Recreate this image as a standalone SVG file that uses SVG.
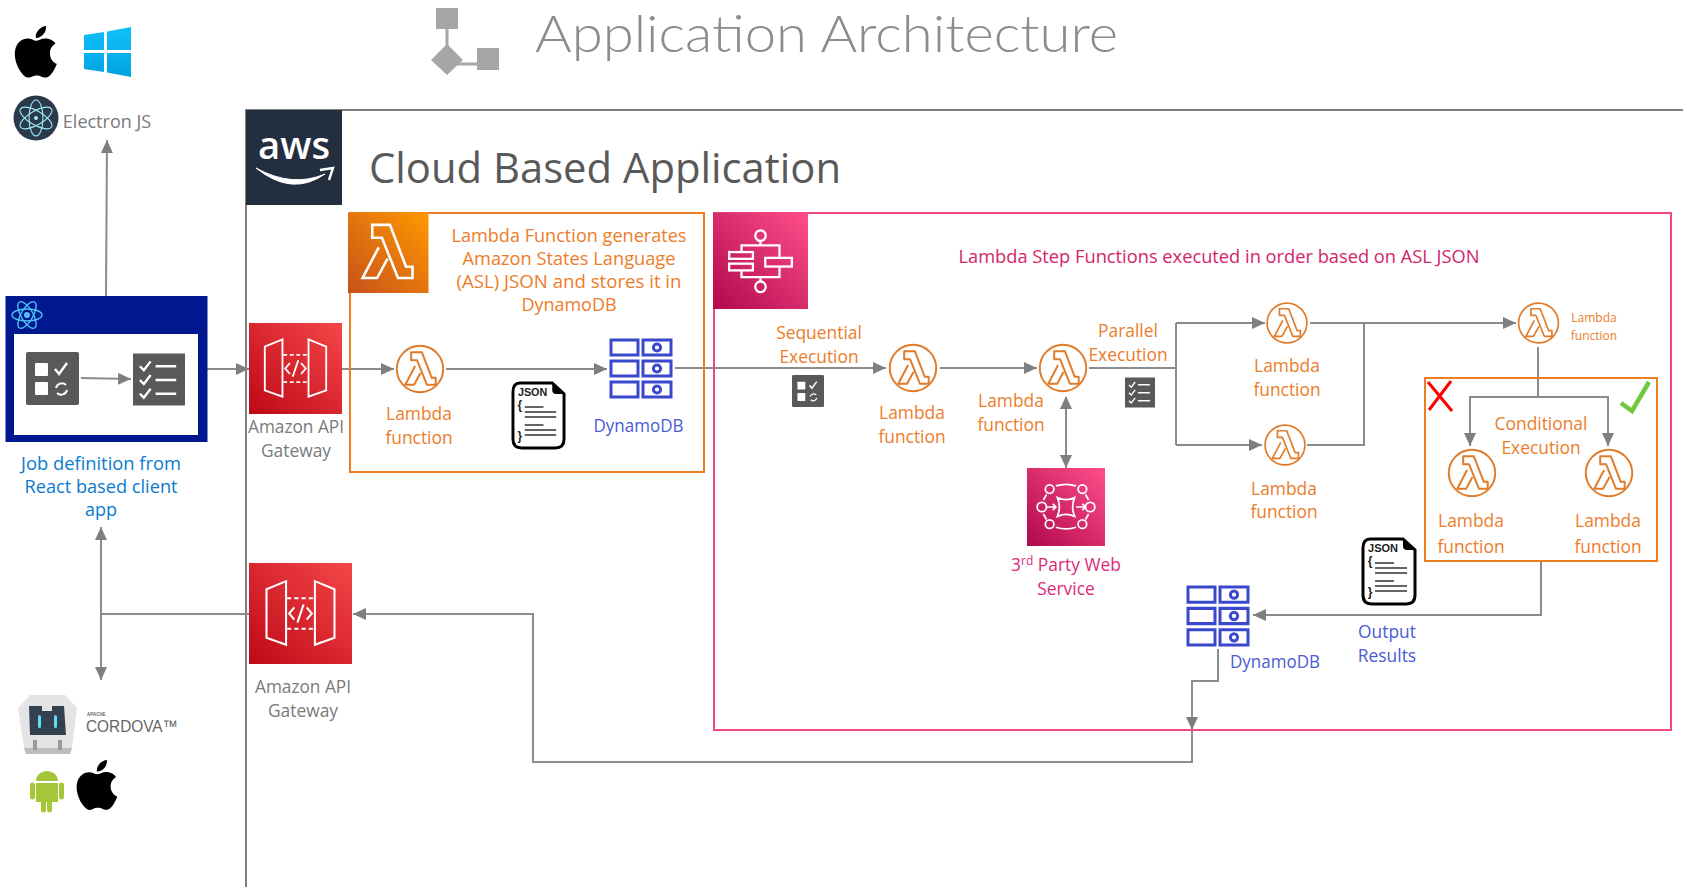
<svg xmlns="http://www.w3.org/2000/svg" width="1683" height="887" viewBox="0 0 1683 887">
<style>
text{font-family:"Open Sans","Liberation Sans",sans-serif;font-size:18px;text-anchor:middle}
.o{fill:#ec7d2a}.b{fill:#4a5bd4}.p{fill:#dc2b78}.g{fill:#7a7a7a}.j{fill:#0a7bd0}.r{fill:#d4246c}
.s{font-size:17.4px}
.c{fill:none;stroke:#8c8c8c;stroke-width:2}
.ca{marker-end:url(#ah)}
.w{fill:none;stroke:#fff;stroke-width:2.4}
.d{fill:none;stroke:#3b48cc;stroke-width:3}
</style>
<defs>
<marker id="ah" markerUnits="userSpaceOnUse" markerWidth="14" markerHeight="14" refX="13" refY="7" orient="auto"><path d="M0,1 L13,7 L0,13 Z" fill="#7f7f7f"/></marker>
<marker id="as" markerUnits="userSpaceOnUse" markerWidth="14" markerHeight="14" refX="1" refY="7" orient="auto"><path d="M13,1 L0,7 L13,13 Z" fill="#7f7f7f"/></marker>
<linearGradient id="go" x1="0" y1="1" x2="1" y2="0"><stop offset="0" stop-color="#c8511b"/><stop offset="1" stop-color="#f90"/></linearGradient>
<linearGradient id="gr" x1="0" y1="1" x2="1" y2="0"><stop offset="0" stop-color="#bd0816"/><stop offset="1" stop-color="#f54749"/></linearGradient>
<linearGradient id="gp" x1="0" y1="1" x2="1" y2="0"><stop offset="0" stop-color="#b0084d"/><stop offset="1" stop-color="#ff4f8b"/></linearGradient>
<linearGradient id="gw" x1="0" y1="0" x2="0" y2="1"><stop offset="0" stop-color="#10c0fb"/><stop offset="1" stop-color="#00a2e0"/></linearGradient>
<symbol id="lam" viewBox="-25 -25 50 50" overflow="visible">
<circle r="23.7" fill="#fff" stroke="#e07b2a" stroke-width="2"/>
<path d="M-9,-17 H2 L12,9 H16 V16 H7 L-3,-9 H-9 Z M-5,-3 L-15,16 H-6 L0.5,4" fill="none" stroke="#e07b2a" stroke-width="2" stroke-linejoin="round"/>
</symbol>
<symbol id="lamw" viewBox="-25 -25 50 50">
<path d="M-9,-17 H2 L12,9 H16 V16 H7 L-3,-9 H-9 Z M-5,-3 L-15,16 H-6 L0.5,4" fill="none" stroke="#fff" stroke-width="1.6"/>
</symbol>
<symbol id="api" viewBox="0 0 100 100" preserveAspectRatio="none">
<rect width="100" height="100" fill="url(#gr)"/>
<path d="M17,26 L36,18 V81 L17,74 Z M83,26 L64,18 V81 L83,74 Z" fill="none" stroke="#fff" stroke-width="2"/>
<path d="M37,35 H63 M37,65 H63" fill="none" stroke="#fff" stroke-width="2" stroke-dasharray="4 3"/>
<path d="M44,44 L39,50 L44,56 M56,44 L61,50 L56,56 M53,41 L47,59" fill="none" stroke="#fff" stroke-width="2"/>
</symbol>
<symbol id="ddb" viewBox="0 0 64 61" preserveAspectRatio="none">
<path class="d" d="M2,2 H29 V17 H2 Z M34,2 H62 V17 H34 Z M2,23 H29 V38 H2 Z M34,23 H62 V38 H34 Z M2,44 H29 V59 H2 Z M34,44 H62 V59 H34 Z"/>
<circle class="d" cx="48" cy="9.5" r="3.6"/><circle class="d" cx="48" cy="30.5" r="3.6"/><circle class="d" cx="48" cy="51.5" r="3.6"/>
</symbol>
<symbol id="json" viewBox="0 0 56 69" preserveAspectRatio="none">
<path d="M9,2 H42 L54,13 V58 Q54,67 45,67 H11 Q2,67 2,58 V11 Q2,2 9,2 Z" fill="#fff" stroke="#000" stroke-width="3"/>
<path d="M42,2 L54,13 H46 Q42,13 42,9 Z" fill="#000"/>
<text x="22" y="15" style="font-family:'Liberation Sans',sans-serif;font-size:11px;font-weight:bold" fill="#222">JSON</text>
<text x="9" y="28" style="font-family:'Liberation Sans',sans-serif;font-size:12px;font-weight:bold" fill="#222">{</text>
<text x="9" y="59" style="font-family:'Liberation Sans',sans-serif;font-size:12px;font-weight:bold" fill="#222">}</text>
<path d="M14,26 H33 M14,31 H46 M14,36 H46 M14,44 H33 M14,49 H46 M14,54 H46" stroke="#333" stroke-width="1.6"/>
</symbol>
<symbol id="task" viewBox="0 0 53 53">
<rect width="53" height="53" rx="2" fill="#595959"/>
<rect x="9" y="11" width="13" height="13" rx="1" fill="#fff"/><rect x="9" y="30" width="13" height="13" rx="1" fill="#fff"/>
<path d="M29,17 L33,22 L41,11" fill="none" stroke="#fff" stroke-width="2.4"/>
<path d="M30,36 A6,6 0 0 1 40,33 M41,38 A6,6 0 0 1 31,41" fill="none" stroke="#fff" stroke-width="2"/>
</symbol>
<symbol id="list" viewBox="0 0 53 53">
<rect width="53" height="53" fill="#595959"/>
<path d="M7,13 L11,17 L18,8 M7,27 L11,31 L18,22 M7,41 L11,45 L18,36" fill="none" stroke="#fff" stroke-width="2.4"/>
<path d="M23,13 H44 M23,27 H44 M23,41 H44" fill="none" stroke="#fff" stroke-width="2.6"/>
</symbol>
<path id="apple" d="M12.152 6.896c-.948 0-2.415-1.078-3.96-1.04-2.04.027-3.91 1.183-4.961 3.014-2.117 3.675-.546 9.103 1.519 12.09 1.013 1.454 2.208 3.09 3.792 3.039 1.52-.065 2.09-.987 3.935-.987 1.831 0 2.35.987 3.96.948 1.637-.026 2.676-1.48 3.676-2.948 1.156-1.688 1.636-3.325 1.662-3.415-.039-.013-3.182-1.221-3.22-4.857-.026-3.04 2.48-4.494 2.597-4.559-1.429-2.09-3.623-2.324-4.39-2.376-2-.156-3.675 1.09-4.61 1.09zM15.53 3.83c.843-1.012 1.4-2.427 1.245-3.83-1.207.052-2.662.805-3.532 1.818-.78.896-1.454 2.338-1.273 3.714 1.338.104 2.715-.688 3.559-1.701"/>
</defs>

<g id="title">
<path d="M447,29 V59 M446,64 H477" stroke="#a6a6a6" stroke-width="3"/>
<rect x="436" y="8" width="22" height="21" fill="#a6a6a6"/>
<rect x="477" y="48" width="22" height="22" fill="#a6a6a6"/>
<path d="M447,44 L463,60 L447,75 L431,60 Z" fill="#a6a6a6"/>
<text x="826.500" y="52" style="font-family:Lato,'Open Sans',sans-serif;font-size:52px;font-weight:300" fill="#8c8c8c" textLength="583" lengthAdjust="spacingAndGlyphs">Application Architecture</text>
</g>

<g id="frame">
<path d="M246,887 V110 H1683" fill="none" stroke="#7f7f7f" stroke-width="2"/>
</g>

<g id="aws-logo">
<rect x="246" y="110" width="96" height="95" fill="#232f3e"/>
<text x="294" y="159" style="font-size:38px;font-weight:600" fill="#fff" textLength="72" lengthAdjust="spacingAndGlyphs">aws</text>
<path d="M256,168 Q292,197 325,174 Q292,188 256,168 Z" fill="#fff" stroke="#fff" stroke-width="1"/>
<path d="M320,170 L333,168 L329,180" fill="none" stroke="#fff" stroke-width="2.4"/>
</g>
<text id="cloud-title" x="605" y="183" style="font-size:42px" fill="#595959" textLength="472" lengthAdjust="spacingAndGlyphs">Cloud Based Application</text>

<g id="os-desktop">
<use href="#apple" transform="translate(10,26) scale(2.15)" fill="#000"/>
<path d="M84,35 L104,32 V50 H84 Z M107,31.5 L131,27 V50 H107 Z M84,53 H104 V72 L84,69 Z M107,53 H131 V77 L107,72.5 Z" fill="url(#gw)"/>
</g>
<g id="electron">
<circle cx="36" cy="118" r="22.5" fill="#2b3a4a"/>
<g fill="none" stroke="#9feaf9" stroke-width="1.1"><ellipse cx="36" cy="118" rx="18" ry="7" transform="rotate(30 36 118)"/><ellipse cx="36" cy="118" rx="18" ry="7" transform="rotate(90 36 118)"/><ellipse cx="36" cy="118" rx="18" ry="7" transform="rotate(150 36 118)"/></g>
<circle cx="36" cy="118" r="2" fill="#9feaf9"/>
<text x="107" y="128" class="g">Electron JS</text>
</g>

<g id="connectors">
<path class="c ca" d="M106,296 L107,140"/>
<path class="c ca" d="M207,369 H249"/>
<path class="c ca" d="M342,369 H394"/>
<path class="c ca" d="M446,369 H607"/>
<path class="c ca" d="M675,368 H886"/>
<path class="c ca" d="M940,368 H1037"/>
<path class="c" style="marker-start:url(#as)" d="M1066,397 V468" marker-end="url(#ah)"/>
<path class="c" d="M1089,368 H1176 M1176,323 V445"/>
<path class="c ca" d="M1176,323 H1265"/>
<path class="c ca" d="M1176,445 H1262"/>
<path class="c" d="M1307,445 H1364 V323"/>
<path class="c ca" d="M1310,323 H1516"/>
<path class="c" d="M1538,347 V397"/>
<path class="c ca" d="M1538,397 H1470 V446"/>
<path class="c ca" d="M1538,397 H1608 V446"/>
<path class="c ca" d="M1541,561 V615 H1253"/>
<path class="c ca" d="M1218,649 V681 H1192 V730"/>
<path class="c ca" d="M1192,730 V762 H533 V614 H353"/>
<path class="c" d="M249,614 H101"/>
<path class="c ca" d="M101,614 V527"/>
<path class="c ca" d="M101,614 V680"/>
</g>

<g id="react-client">
<rect x="5.500" y="296" width="202" height="146" fill="#00188f"/>
<rect x="14" y="334" width="184" height="101" fill="#fff"/>
<g fill="none" stroke="#4fc3f7" stroke-width="1.400"><ellipse cx="27" cy="315" rx="15" ry="6"/><ellipse cx="27" cy="315" rx="15" ry="6" transform="rotate(60 27 315)"/><ellipse cx="27" cy="315" rx="15" ry="6" transform="rotate(120 27 315)"/></g>
<circle cx="27" cy="315" r="3" fill="#4fc3f7"/>
<use href="#task" x="26" y="352" width="53" height="53"/>
<use href="#list" x="133" y="353" width="52" height="53"/>
<path class="c ca" d="M81,378 L131,379"/>
<text x="101" y="470" class="j" textLength="160" lengthAdjust="spacingAndGlyphs">Job definition from</text>
<text x="101" y="493" class="j" textLength="153" lengthAdjust="spacingAndGlyphs">React based client</text>
<text x="101" y="516" class="j">app</text>
</g>

<g id="api-gateway-1">
<use href="#api" x="249" y="323" width="93" height="91"/>
<text x="296" y="433" class="g s" textLength="96" lengthAdjust="spacingAndGlyphs">Amazon API</text>
<text x="296" y="457" class="g s">Gateway</text>
</g>

<g id="asl-group">
<rect x="350" y="213" width="354" height="259" fill="none" stroke="#ed7d21" stroke-width="2"/>
<rect x="348" y="212.500" width="80.500" height="80.500" fill="url(#go)"/>
<use href="#lamw" x="346.500" y="212" width="80.500" height="80.500"/>
<text x="569" y="242" class="o" textLength="235" lengthAdjust="spacingAndGlyphs">Lambda Function generates</text>
<text x="569" y="265" class="o" textLength="213" lengthAdjust="spacingAndGlyphs">Amazon States Language</text>
<text x="569" y="288" class="o" textLength="225" lengthAdjust="spacingAndGlyphs">(ASL) JSON and stores it in</text>
<text x="569" y="311" class="o" textLength="95" lengthAdjust="spacingAndGlyphs">DynamoDB</text>
</g>
<g id="lambda-1"><use href="#lam" x="395.500" y="344.500" width="49" height="49"/>
<text x="419" y="420" class="o s">Lambda</text><text x="419" y="444" class="o s">function</text></g>
<g id="json-1"><use href="#json" x="511" y="381" width="55" height="69"/></g>
<g id="dynamodb-1"><use href="#ddb" x="609" y="338" width="64" height="61"/><text x="638.500" y="432" class="b" textLength="90" lengthAdjust="spacingAndGlyphs">DynamoDB</text></g>

<g id="api-gateway-2">
<use href="#api" x="249" y="563" width="103" height="101"/>
<text x="303" y="693" class="g s" textLength="96" lengthAdjust="spacingAndGlyphs">Amazon API</text>
<text x="303" y="717" class="g s">Gateway</text>
</g>

<g id="step-group">
<rect x="714" y="213" width="957" height="517" fill="none" stroke="#f0478a" stroke-width="2"/>
<rect x="713" y="212.500" width="95" height="96.500" fill="url(#gp)"/>
<g transform="translate(713,212.500) scale(.95,.965)">
<circle class="w" cx="50" cy="24" r="5.500"/><circle class="w" cx="50" cy="77" r="5.500"/>
<path class="w" d="M50,30 V34 M50,67 V71 M30,41 V34 H70 V47 M30,60 V67 H70 V56"/>
<rect class="w" x="17" y="41" width="25" height="7"/><rect class="w" x="17" y="53" width="25" height="7"/><rect class="w" x="55" y="47" width="28" height="9"/>
</g>
<text x="1219" y="263" class="r" textLength="521" lengthAdjust="spacingAndGlyphs">Lambda Step Functions executed in order based on ASL JSON</text>
</g>

<g id="seq-label">
<text x="819" y="339" class="o s">Sequential</text><text x="819" y="363" class="o s">Execution</text>
<use href="#task" x="792" y="375" width="32" height="32"/>
</g>
<g id="lambda-2"><use href="#lam" x="888.500" y="343.500" width="49" height="49"/>
<text x="912" y="419" class="o s">Lambda</text><text x="912" y="443" class="o s">function</text></g>
<g id="lambda-3"><use href="#lam" x="1038.500" y="343.500" width="49" height="49"/>
<text x="1011" y="407" class="o s">Lambda</text><text x="1011" y="431" class="o s">function</text></g>
<g id="par-label">
<text x="1128" y="337" class="o s">Parallel</text><text x="1128" y="361" class="o s">Execution</text>
<use href="#list" x="1125" y="377" width="30" height="31"/>
</g>
<g id="third-party">
<rect x="1027" y="468" width="78" height="78" fill="url(#gp)"/>
<g transform="translate(1027,468) scale(.78)" fill="none" stroke="#fff" stroke-width="2.200">
<circle cx="29" cy="27" r="5.500"/><circle cx="71" cy="27" r="5.500"/><circle cx="29" cy="72" r="5.500"/><circle cx="71" cy="72" r="5.500"/><circle cx="19" cy="50" r="6"/><circle cx="81" cy="50" r="6"/>
<path d="M37,23 Q50,19 63,23 M37,76 Q50,80 63,76 M21,41 L25,34 M79,41 L75,34 M21,59 L25,66 M79,59 L75,66"/>
<path d="M39,38 Q50,43 61,38 Q56,50 61,62 Q50,57 39,62 Q44,50 39,38 Z"/>
<path d="M25,50 H37 M33,46 L37,50 L33,54 M63,50 H75 M71,46 L75,50 L71,54"/>
</g>
<text x="1066" y="571" class="p s">3<tspan dy="-6" style="font-size:12px">rd</tspan><tspan dy="6"> Party Web</tspan></text>
<text x="1066" y="595" class="p s">Service</text>
</g>
<g id="lambda-4"><use href="#lam" x="1266" y="302" width="42" height="42"/>
<text x="1287" y="372" class="o s">Lambda</text><text x="1287" y="396" class="o s">function</text></g>
<g id="lambda-5"><use href="#lam" x="1264" y="424" width="42" height="42"/>
<text x="1284" y="495" class="o s">Lambda</text><text x="1284" y="518" class="o s">function</text></g>
<g id="lambda-6"><use href="#lam" x="1517.500" y="302" width="42" height="42"/>
<text x="1594" y="322" class="o" style="font-size:12px">Lambda</text><text x="1594" y="340" class="o" style="font-size:12px">function</text></g>

<g id="conditional-group">
<rect x="1425" y="378" width="232" height="183" fill="none" stroke="#ed7d21" stroke-width="2"/>
<path d="M1428,382 L1452,411 M1451,381 L1429,410" stroke="#f00" stroke-width="3" fill="none"/>
<path d="M1621,403 L1632,411 L1649,382" stroke="#70c83c" stroke-width="4.500" fill="none"/>
<text x="1541" y="430" class="o s">Conditional</text><text x="1541" y="454" class="o s">Execution</text>
</g>
<g id="lambda-7"><use href="#lam" x="1447.500" y="448.500" width="49" height="49"/>
<text x="1471" y="527" class="o s">Lambda</text><text x="1471" y="553" class="o s">function</text></g>
<g id="lambda-8"><use href="#lam" x="1584.500" y="448.500" width="49" height="49"/>
<text x="1608" y="527" class="o s">Lambda</text><text x="1608" y="553" class="o s">function</text></g>
<g id="json-2"><use href="#json" x="1361" y="537" width="56" height="69"/>
<text x="1387" y="638" class="b s">Output</text><text x="1387" y="662" class="b s">Results</text></g>
<g id="dynamodb-2"><use href="#ddb" x="1186" y="585" width="64" height="62"/><text x="1275" y="668" class="b" textLength="90" lengthAdjust="spacingAndGlyphs">DynamoDB</text></g>

<g id="cordova">
<path d="M30,695 H65 L77,708 L72,748 H24 L18,708 Z" fill="#e4e4e4"/>
<path d="M24,748 H72 L70,754 H26 Z" fill="#bdbdbd"/>
<path d="M29,706 H42 V711 H52 V706 H64 L66,735 H30 Z" fill="#33404f"/>
<rect x="38" y="715" width="3" height="13" rx="1.500" fill="#5fe0f0"/><rect x="54" y="715" width="3" height="13" rx="1.500" fill="#5fe0f0"/>
<path d="M33,740 H37 V750 H33 Z M58,740 H62 V750 H58 Z" fill="#999"/>
<text x="87" y="715.500" style="font-family:'Liberation Sans',sans-serif;font-size:4.500px;text-anchor:start;font-weight:bold" fill="#666">APACHE</text>
<text x="86" y="732" style="font-family:'Liberation Sans',sans-serif;font-size:17px;text-anchor:start" fill="#666" textLength="92" lengthAdjust="spacingAndGlyphs">CORDOVA™</text>
</g>
<g id="os-mobile">
<path d="M36,781 A11,10 0 0 1 58,781 Z M36,783 H58 V802 H52 V810 A2.500,2.500 0 0 1 47,810 V802 H46 V810 A2.500,2.500 0 0 1 41,810 V802 H36 Z M30,785 A2.500,2.500 0 0 1 35,785 V797 A2.500,2.500 0 0 1 30,797 Z M59,785 A2.500,2.500 0 0 1 64,785 V797 A2.500,2.500 0 0 1 59,797 Z" fill="#a4c639"/>
<path d="M40,773 L43,777 M54,773 L51,777" stroke="#a4c639" stroke-width="1.200"/>
<use href="#apple" transform="translate(72,760) scale(2.080)" fill="#000"/>
</g>
</svg>
